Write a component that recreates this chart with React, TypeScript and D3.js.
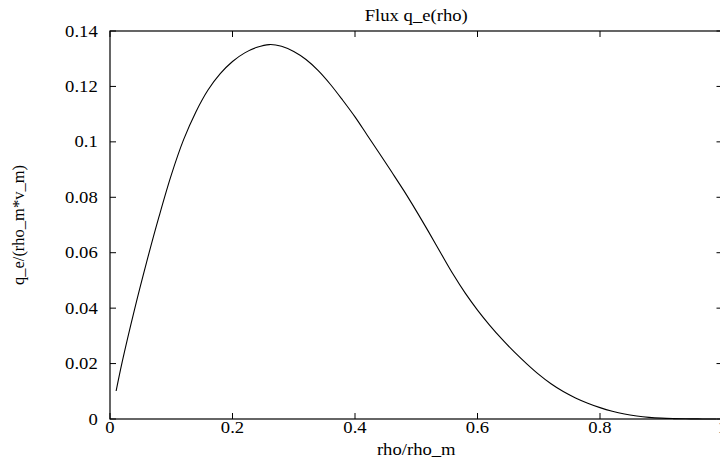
import React from "react";
import * as d3 from "d3";

const rhoValues = [0.01, 0.02, 0.04, 0.06, 0.08, 0.10, 0.12, 0.14, 0.16, 0.18, 0.20, 0.22, 0.24, 0.26, 0.28, 0.30, 0.32, 0.34, 0.36, 0.38, 0.40, 0.42, 0.44, 0.46, 0.48, 0.50, 0.52, 0.54, 0.56, 0.58, 0.60, 0.62, 0.64, 0.66, 0.68, 0.70, 0.72, 0.74, 0.76, 0.78, 0.80, 0.82, 0.84, 0.86, 0.88, 0.90, 0.92, 0.94, 0.96, 0.98, 0.99];
const fluxValues = [0.0101, 0.0207, 0.0395, 0.0568, 0.0730, 0.0880, 0.1007, 0.1107, 0.1187, 0.1246, 0.1290, 0.1321, 0.1341, 0.1351, 0.1345, 0.1326, 0.1297, 0.1257, 0.1207, 0.1150, 0.1090, 0.1024, 0.0958, 0.0891, 0.0823, 0.0751, 0.0676, 0.0599, 0.0523, 0.0454, 0.0393, 0.0338, 0.0288, 0.0242, 0.0200, 0.0161, 0.0127, 0.0099, 0.0076, 0.0057, 0.0041, 0.0028, 0.0018, 0.0011, 0.0006, 0.0003, 0.00015, 0.00007, 0.00003, 0.00001, 0.0];
const xTicks = [0, 0.2, 0.4, 0.6, 0.8, 1];
const xTickLabels = ["0", "0.2", "0.4", "0.6", "0.8", "1"];
const yTicks = [0, 0.02, 0.04, 0.06, 0.08, 0.1, 0.12, 0.14];
const yTickLabels = ["0", "0.02", "0.04", "0.06", "0.08", "0.1", "0.12", "0.14"];
const titleText = "Flux q_e(rho)";
const xLabelText = "rho/rho_m";
const yLabelText = "q_e/(rho_m*v_m)";

const W = 720;
const H = 459;
const left = 110;
const right = 722.5;
const top = 31;
const bottom = 419;
const FS = 16.5;
const SX = 1.13;
const textStyle = { fontFamily: '"Liberation Serif"', fontSize: FS + "px" };

export default function App() {
  const x = d3.scaleLinear().domain([0, 1]).range([left, right]);
  const y = d3.scaleLinear().domain([0, 0.14]).range([bottom, top]);
  const pts: [number, number][] = rhoValues.map((r, i) => [r, fluxValues[i]]);
  const line = d3
    .line<[number, number]>()
    .x((d) => x(d[0]))
    .y((d) => y(d[1]))
    .curve(d3.curveCatmullRom.alpha(0.5));
  const tl = 6;
  return (
    <svg
      width={W}
      height={H}
      style={{ position: "absolute", left: 0, top: 0, background: "#fff" }}
    >
      <rect x={0} y={0} width={W} height={H} fill="#fff" />
      {xTicks.map((t, i) => (
        <g key={"xt" + i}>
          <line x1={x(t)} x2={x(t)} y1={bottom} y2={bottom - tl} stroke="#000" strokeWidth={1} />
          <line x1={x(t)} x2={x(t)} y1={top} y2={top + tl} stroke="#000" strokeWidth={1} />
          <text
            transform={`translate(${x(t)},433.3) scale(${SX},1)`}
            textAnchor="middle"
            style={textStyle}
            fill="#000"
          >
            {xTickLabels[i]}
          </text>
        </g>
      ))}
      {yTicks.map((t, i) => (
        <g key={"yt" + i}>
          <line x1={left} x2={left + tl} y1={y(t)} y2={y(t)} stroke="#000" strokeWidth={1} />
          <line x1={right} x2={right - tl} y1={y(t)} y2={y(t)} stroke="#000" strokeWidth={1} />
          <text
            transform={`translate(97.7,${y(t) + 5.5}) scale(${SX},1)`}
            textAnchor="end"
            style={textStyle}
            fill="#000"
          >
            {yTickLabels[i]}
          </text>
        </g>
      ))}
      <rect
        x={left}
        y={top}
        width={right - left}
        height={bottom - top}
        fill="none"
        stroke="#000"
        strokeWidth={1.2}
      />
      <path d={line(pts) || ""} fill="none" stroke="#000" strokeWidth={1.1} />
      <text
        transform={`translate(${(left + right) / 2},20.7) scale(${SX},1)`}
        textAnchor="middle"
        style={textStyle}
        fill="#000"
      >
        {titleText}
      </text>
      <text
        transform={`translate(${(left + right) / 2},455) scale(${SX},1)`}
        textAnchor="middle"
        style={textStyle}
        fill="#000"
      >
        {xLabelText}
      </text>
      <text
        transform={`translate(24,${(top + bottom) / 2}) rotate(-90)`}
        textAnchor="middle"
        style={textStyle}
        fill="#000"
      >
        {yLabelText}
      </text>
    </svg>
  );
}
